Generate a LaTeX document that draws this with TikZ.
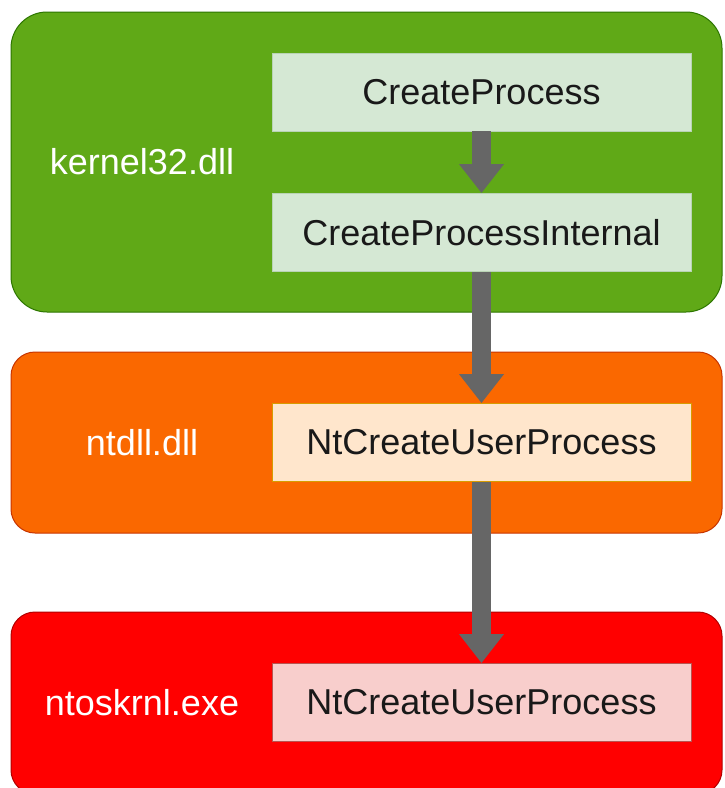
\documentclass[tikz,border=0pt]{standalone}
\usepackage{fontspec}
\setmainfont{Liberation Sans}
\usetikzlibrary{arrows.meta}
\definecolor{gfill}{HTML}{60A917}
\definecolor{gline}{HTML}{2D7600}
\definecolor{ofill}{HTML}{FA6800}
\definecolor{oline}{HTML}{C73500}
\definecolor{rfill}{HTML}{FF0000}
\definecolor{rline}{HTML}{B20000}
\definecolor{gin}{HTML}{D5E8D4}
\definecolor{ginl}{HTML}{B9D3B5}
\definecolor{oin}{HTML}{FFE6CC}
\definecolor{oinl}{HTML}{D79B00}
\definecolor{rin}{HTML}{F8CECC}
\definecolor{rinl}{HTML}{B85450}
\definecolor{arr}{HTML}{666666}
\begin{document}
\begin{tikzpicture}[x=1pt,y=-1pt,
  layer/.style={line width=1pt},
  fn/.style={draw, line width=0.8pt, minimum width=419pt, minimum height=78pt, inner sep=0pt,
    font=\fontsize{36}{43}\selectfont, text=black!90},
  lbl/.style={font=\fontsize{36}{43}\selectfont, text=white},
  flow/.style={arr, line width=19pt, -{Triangle[width=43pt,length=29pt]}}]
\useasboundingbox (0,0) rectangle (724,788);
\fill[white] (0,0) rectangle (724,788);
% layers
\draw[layer, fill=gfill, draw=gline, rounded corners=36pt] (11,12) rectangle (722,312);
\draw[layer, fill=ofill, draw=oline, rounded corners=24pt] (11,352) rectangle (722,533);
\draw[layer, fill=rfill, draw=rline, rounded corners=24pt] (11,612) rectangle (722,794);
% labels
\node[lbl] (k32) at (142,162) {kernel32.dll};
\node[lbl] (ntd) at (142,443) {ntdll.dll};
\node[lbl] (nto) at (142,703) {ntoskrnl.exe};
% functions
\node[fn, fill=gin, draw=ginl] (cp) at (481.5,92) {CreateProcess};
\node[fn, fill=gin, draw=ginl] (cpi) at (481.5,232.5) {CreateProcessInternal};
\node[fn, fill=oin, draw=oinl] (ncu) at (481.5,442.5) {NtCreateUserProcess};
\node[fn, fill=rin, draw=rinl] (knc) at (481.5,702.5) {NtCreateUserProcess};
% arrows
\draw[flow] (cp.south) -- (cpi.north);
\draw[flow] (cpi.south) -- (ncu.north);
\draw[flow] (ncu.south) -- (knc.north);
\end{tikzpicture}
\end{document}
